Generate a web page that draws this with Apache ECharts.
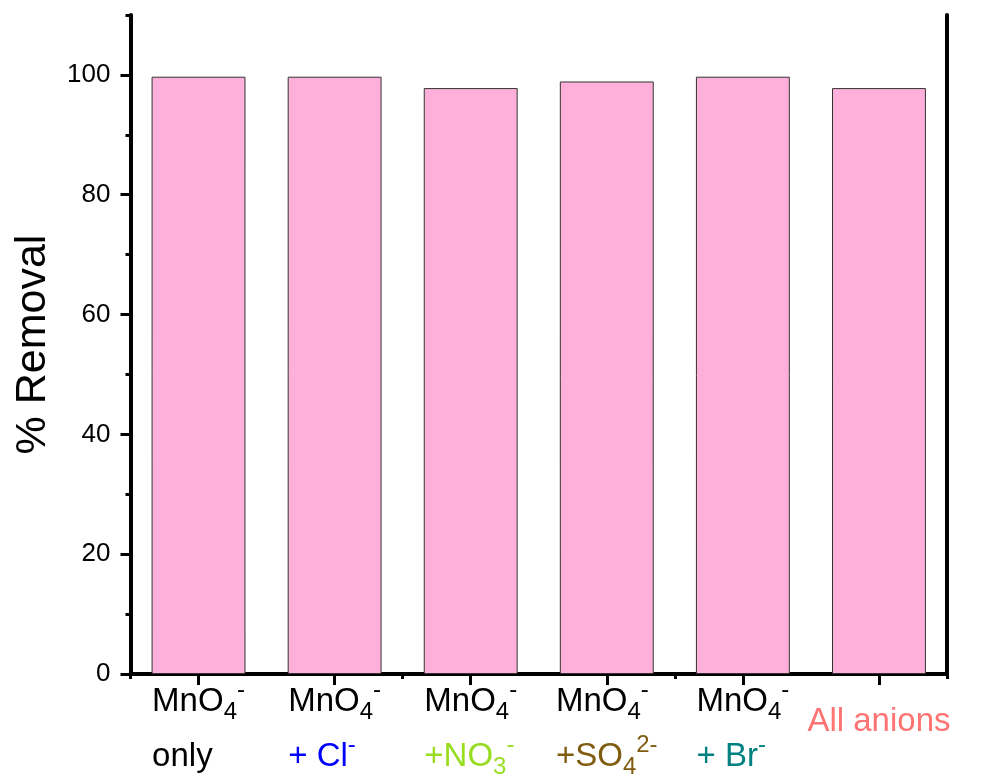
<!DOCTYPE html>
<html>
<head>
<meta charset="utf-8">
<script src="https://cdn.jsdelivr.net/npm/echarts@6/dist/echarts.min.js"></script>
<style>html,body{margin:0;padding:0;background:#fff;}#c{width:983px;height:783px;}</style>
</head>
<body>
<div id="c"></div>
<script>
// Data
const categories = [
  '{b|MnO}{sub|4}{sup|-}\n{b|only}',
  '{b|MnO}{sub|4}{sup|-}\n{c|+ Cl}{cSup|-}',
  '{b|MnO}{sub|4}{sup|-}\n{g|+NO}{gSub|3}{gSup|-}',
  '{b|MnO}{sub|4}{sup|-}\n{s|+SO}{sSub|4}{sSup|2-}',
  '{b|MnO}{sub|4}{sup|-}\n{t|+ Br}{tSup|-}',
  '{a|All anions}'
];
const removal = [99.7, 99.7, 97.8, 98.9, 99.7, 97.8];
const yMajorTicks = [0, 20, 40, 60, 80, 100];
const yMinorTicks = [10, 30, 50, 70, 90, 110];
const yTitle = '% Removal';

const FONT = '"Liberation Sans", Arial, sans-serif';
const base = 33, small = 24, LH = 55, P = 22;
function rs(color) {
  return {
    main: {fontSize: base, color: color, lineHeight: LH, align: 'left', fontFamily: FONT},
    sub: {fontSize: small, color: color, padding: [P, 0, 0, 0], align: 'left', fontFamily: FONT},
    sup: {fontSize: small, color: color, padding: [0, 0, P, 0], align: 'left', fontFamily: FONT}
  };
}
const k = rs('#000'), bl = rs('#0000ff'), gr = rs('#99dd22'), br = rs('#7f5c0e'), te = rs('#008080');
const rich = {
  b: k.main, sub: k.sub, sup: k.sup,
  c: bl.main, cSup: bl.sup,
  g: gr.main, gSub: gr.sub, gSup: gr.sup,
  s: br.main, sSub: br.sub, sSup: br.sup,
  t: te.main, tSup: te.sup,
  a: {fontSize: base, color: '#ff7373', lineHeight: 96, align: 'left', fontFamily: FONT}
};

const chart = echarts.init(document.getElementById('c'), null, {renderer: 'canvas'});
const lineStyle = {color: '#000', width: 4};
chart.setOption({
  animation: false,
  backgroundColor: '#fff',
  grid: {left: 130.5, right: 36, top: 15, bottom: 109, containLabel: false, outerBoundsMode: 'none'},
  xAxis: [
    {
      type: 'category', data: categories, position: 'bottom',
      axisLine: {show: true, lineStyle: lineStyle},
      axisTick: {show: true, alignWithLabel: true, length: 11, lineStyle: {color: '#000', width: 3}},
      axisLabel: {show: true, margin: 0, interval: 0, rich: rich, fontFamily: FONT, fontSize: base}
    },
    {
      type: 'category', data: categories, position: 'bottom',
      axisLine: {show: false},
      axisTick: {show: true, alignWithLabel: false, length: 5, lineStyle: {color: '#000', width: 3}},
      axisLabel: {show: false}
    },
    {
      type: 'category', data: categories, position: 'top',
      axisLine: {show: true, lineStyle: lineStyle},
      axisTick: {show: false}, axisLabel: {show: false}
    }
  ],
  yAxis: [
    {
      type: 'value', min: 0, max: 110, interval: 20, position: 'left',
      name: yTitle, nameLocation: 'middle', nameGap: 76, nameRotate: 90,
      nameTextStyle: {fontSize: 43, color: '#000', fontFamily: FONT},
      axisLine: {show: true, lineStyle: lineStyle},
      axisTick: {show: true, length: 10, customValues: yMajorTicks, lineStyle: {color: '#000', width: 3}},
      axisLabel: {show: true, customValues: yMajorTicks, margin: 20, fontSize: 26, color: '#000', fontFamily: FONT},
      splitLine: {show: false}
    },
    {
      type: 'value', min: 0, max: 110, interval: 20, position: 'left',
      axisLine: {show: false},
      axisTick: {show: true, length: 5, customValues: yMinorTicks, lineStyle: {color: '#000', width: 3}},
      axisLabel: {show: false}, splitLine: {show: false}
    },
    {
      type: 'value', min: 0, max: 110, position: 'right',
      axisLine: {show: true, lineStyle: lineStyle},
      axisTick: {show: false}, axisLabel: {show: false}, splitLine: {show: false}
    }
  ],
  series: [{
    type: 'bar', data: removal, xAxisIndex: 0, yAxisIndex: 0,
    barWidth: '69%',
    itemStyle: {color: '#ffb0da', borderColor: '#333', borderWidth: 1}
  }]
});
</script>
</body>
</html>
